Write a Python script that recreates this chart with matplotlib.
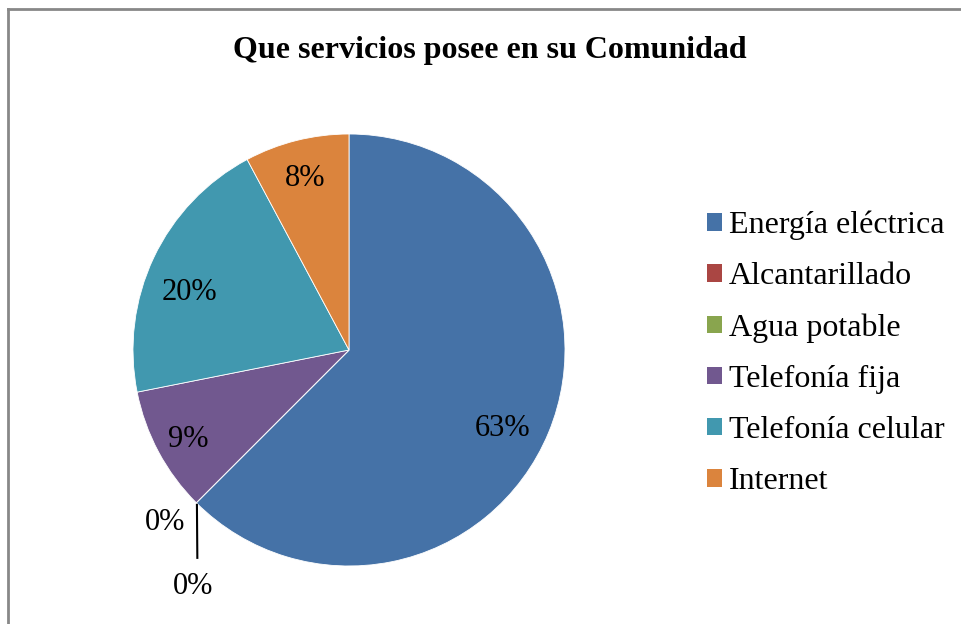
import matplotlib
matplotlib.use("Agg")
import matplotlib.pyplot as plt
from matplotlib.patches import Patch
import numpy as np

categories = ["Energía eléctrica", "Alcantarillado", "Agua potable",
              "Telefonía fija", "Telefonía celular", "Internet"]
values = [80, 0, 0, 12, 26, 10]
colors = ["#4572A7", "#AA4643", "#89A54E", "#71588F", "#4198AF", "#DB843D"]
title = "Que servicios posee en su Comunidad"

plt.rcParams['font.family'] = ['Liberation Serif', 'DejaVu Serif']

W, H = 961, 624
fig = plt.figure(figsize=(W / 100, H / 100), dpi=100)

# frame border (left/top visible)
fig.add_artist(plt.Line2D([7.5 / W, 7.5 / W], [0, 1 - 8.5 / H], color="#888888", lw=2))
fig.add_artist(plt.Line2D([7.5 / W, 1], [1 - 8.5 / H, 1 - 8.5 / H], color="#888888", lw=2))

cx, cy, r = 349, 350, 216
ax = fig.add_axes([(cx - r) / W, (H - cy - r) / H, 2 * r / W, 2 * r / H])
wedges, _ = ax.pie(values, colors=colors, startangle=90, counterclock=False,
                   radius=1.0, wedgeprops=dict(edgecolor="white", linewidth=0.6))
ax.set_xlim(-1, 1)
ax.set_ylim(-1, 1)
ax.set_aspect("equal")
ax.axis("off")

total = sum(values)


def pct(v):
    return f"{int(100 * v / total + 0.5)}%"


dy = -0.017
label_r = [0.79, None, None, 0.845, 0.79, 0.835]
label_dang = [-3.5, 0, 0, 0, 4.2, 0]
for w, v, lr, da in zip(wedges, values, label_r, label_dang):
    if v == 0 or lr is None:
        continue
    mid = np.deg2rad((w.theta1 + w.theta2) / 2 + da)
    ax.text(lr * np.cos(mid), lr * np.sin(mid) + dy, pct(v),
            ha="center", va="center", fontsize=22)

# zero-value labels with leader line
edge_ang = np.deg2rad(wedges[1].theta1)
ex, ey = np.cos(edge_ang), np.sin(edge_ang)
ax.plot([ex + 0.003, ex + 0.005], [ey - 0.005, ey - 0.26], color="black", lw=1.5,
        clip_on=False, solid_capstyle="butt")
ax.text(ex - 0.144, ey - 0.074 + dy, pct(values[1]), ha="center", va="center", fontsize=22)
ax.text(ex - 0.014, ey - 0.37 + dy, pct(values[2]), ha="center", va="center", fontsize=22)

fig.text(490 / W, 1 - 58 / H, title, ha="center", va="baseline",
         fontsize=23, fontweight="bold")

handles = [Patch(facecolor=c, edgecolor="none") for c in colors]
fig.legend(handles, categories, loc="center left", bbox_to_anchor=(694 / W, 1 - 353.5 / H),
           frameon=False, fontsize=23, handlelength=0.47, handleheight=0.47,
           handletextpad=0.22, labelspacing=0.69, borderaxespad=0)

fig.savefig("out.png", dpi=100)
